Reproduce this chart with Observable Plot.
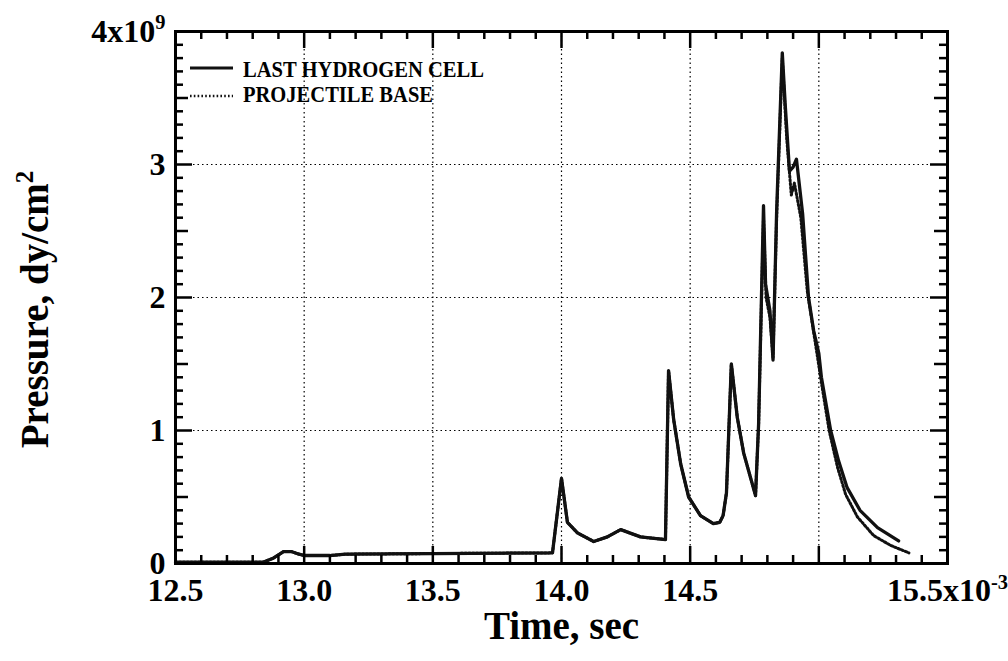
<!DOCTYPE html>
<html><head><meta charset="utf-8">
<script src="https://cdn.jsdelivr.net/npm/d3@7"></script>
<script src="https://cdn.jsdelivr.net/npm/@observablehq/plot@0.6"></script>
<style>
html,body{margin:0;padding:0;background:#fff;}
#wrap{position:relative;width:1008px;height:661px;overflow:hidden;}
#legend{position:absolute;left:0;top:0;pointer-events:none;}
</style></head><body>
<div id="wrap"></div>
<script>
// ---- data (time in 1e-3 s, pressure in 1e9 dy/cm^2) ----
const hydrogenTime = [12.50, 12.84, 12.88, 12.92, 12.95, 12.98, 13.00, 13.10, 13.16, 13.50, 13.965, 14.00, 14.023, 14.062, 14.125, 14.178, 14.23, 14.307, 14.404, 14.416, 14.436, 14.463, 14.494, 14.54, 14.59, 14.615, 14.628, 14.641, 14.66, 14.683, 14.708, 14.754, 14.766, 14.777, 14.785, 14.793, 14.81, 14.822, 14.836, 14.858, 14.87, 14.886, 14.90, 14.913, 14.937, 14.96, 14.98, 15.00, 15.01, 15.046, 15.077, 15.11, 15.16, 15.228, 15.31];
const hydrogenPressure = [0.01, 0.01, 0.04, 0.09, 0.09, 0.07, 0.06, 0.06, 0.07, 0.075, 0.08, 0.64, 0.31, 0.23, 0.165, 0.20, 0.255, 0.20, 0.18, 1.45, 1.08, 0.75, 0.50, 0.36, 0.30, 0.31, 0.36, 0.53, 1.50, 1.10, 0.83, 0.51, 1.05, 2.00, 2.69, 2.10, 1.90, 1.53, 2.65, 3.84, 3.43, 2.95, 2.98, 3.04, 2.63, 2.00, 1.75, 1.58, 1.40, 1.00, 0.77, 0.57, 0.40, 0.27, 0.17];
const baseTime = [12.50, 12.84, 12.88, 12.92, 12.95, 12.98, 13.00, 13.10, 13.16, 13.50, 13.965, 14.00, 14.023, 14.062, 14.125, 14.178, 14.23, 14.307, 14.404, 14.416, 14.436, 14.463, 14.494, 14.54, 14.59, 14.615, 14.628, 14.641, 14.66, 14.683, 14.708, 14.754, 14.766, 14.777, 14.785, 14.795, 14.81, 14.822, 14.836, 14.858, 14.875, 14.893, 14.905, 14.93, 14.955, 14.975, 14.995, 15.01, 15.04, 15.073, 15.104, 15.15, 15.213, 15.28, 15.35];
const basePressure = [0.01, 0.01, 0.04, 0.09, 0.09, 0.07, 0.06, 0.06, 0.07, 0.075, 0.08, 0.64, 0.31, 0.23, 0.165, 0.20, 0.255, 0.20, 0.18, 1.45, 1.08, 0.75, 0.50, 0.36, 0.30, 0.31, 0.36, 0.53, 1.50, 1.10, 0.83, 0.51, 1.05, 1.95, 2.60, 2.00, 1.85, 1.55, 2.60, 3.80, 3.20, 2.77, 2.86, 2.60, 2.05, 1.80, 1.55, 1.36, 1.00, 0.72, 0.52, 0.35, 0.21, 0.135, 0.08];
const seriesNames = ["LAST HYDROGEN CELL", "PROJECTILE BASE"];
const xLabelTicks = [12.5, 13.0, 13.5, 14.0, 14.5, 15.5];
const xGridTicks = [13.0, 13.5, 14.0, 14.5, 15.0];
const yLabelTicks = [0, 1, 2, 3, 4];
const yGridTicks = [1, 2, 3];
const xTitle = "Time, sec";
const yTitle = "Pressure, dy/cm^2";

const hydrogenRows = hydrogenTime.map((t, i) => ({t, p: hydrogenPressure[i]}));
const baseRows = baseTime.map((t, i) => ({t, p: basePressure[i]}));

const xMinor = d3.range(126, 155).filter(v => v % 5 !== 0).map(v => v / 10);
const xMajor = d3.range(25, 32).map(v => v / 2);
const yMinor = d3.range(1, 40).filter(v => v % 5 !== 0).map(v => v / 10);
const yMid = [0.5, 1.5, 2.5, 3.5];
const yMajor = [1, 2, 3];

const W = 1008, H = 661, ML = 175, MR = 61, MT = 31, MB = 98;
const PW = W - ML - MR, PH = H - MT - MB;
const FONT = "'Liberation Serif', 'Times New Roman', serif";
const TW = 2.5;
// inward ticks: full-frame ticks shortened with insets (pixel lengths)
const bottomTicks = (data, len) => Plot.tickX(data, {x: d => d, insetTop: PH - len, strokeWidth: TW, stroke: "#000"});
const topTicks = (data, len) => Plot.tickX(data, {x: d => d, insetBottom: PH - len, strokeWidth: TW, stroke: "#000"});
const leftTicks = (data, len) => Plot.tickY(data, {y: d => d, insetRight: PW - len, strokeWidth: TW, stroke: "#000"});
const rightTicks = (data, len) => Plot.tickY(data, {y: d => d, insetLeft: PW - len, strokeWidth: TW, stroke: "#000"});

const chart = Plot.plot({
  width: W, height: H,
  marginLeft: ML, marginRight: MR, marginTop: MT, marginBottom: MB,
  style: {fontFamily: FONT, fontWeight: "bold", fontSize: "32px", background: "white", color: "black"},
  x: {domain: [12.5, 15.5], label: null},
  y: {domain: [0, 4], label: null},
  marks: [
    Plot.gridX(xGridTicks, {stroke: "#000", strokeOpacity: 1, strokeWidth: 1.2, strokeDasharray: "1.5,3"}),
    Plot.gridY(yGridTicks, {stroke: "#000", strokeOpacity: 1, strokeWidth: 1.2, strokeDasharray: "1.5,3"}),
    Plot.line(baseRows, {x: "t", y: "p", stroke: "#111", strokeWidth: 3, strokeDasharray: "1.6,2.2"}),
    Plot.line(hydrogenRows, {x: "t", y: "p", stroke: "#111", strokeWidth: 3.3}),
    bottomTicks(xMinor, 8), bottomTicks(xMajor, 17),
    topTicks(xMinor, 8), topTicks(xMajor, 17),
    leftTicks(yMinor, 8), leftTicks(yMid, 13), leftTicks(yMajor, 17),
    rightTicks(yMinor, 8), rightTicks(yMid, 13), rightTicks(yMajor, 17),
    Plot.axisX(xLabelTicks, {anchor: "bottom", tickSize: 0, tickPadding: 15, label: null, fontSize: 32,
      fontFamily: FONT, fontWeight: "bold",
      tickFormat: d => d === 15.5 ? "15.5x10^-3" : d.toFixed(1)}),
    Plot.axisY(yLabelTicks, {anchor: "left", tickSize: 0, tickPadding: 10, label: null, fontSize: 32,
      fontFamily: FONT, fontWeight: "bold",
      tickFormat: d => d === 4 ? "4x10^9" : String(d)}),
    Plot.frame({stroke: "#000", strokeWidth: 3}),
    Plot.text([xTitle], {text: d => d, frameAnchor: "bottom", dy: 63, lineAnchor: "middle", textAnchor: "middle", fontSize: 39}),
    Plot.text([yTitle], {text: d => d, frameAnchor: "left", dx: -140, dy: 12, rotate: -90, lineAnchor: "middle", textAnchor: "middle", fontSize: 39})
  ]
});

// superscripts (text after "^")
const NS = "http://www.w3.org/2000/svg";
chart.querySelectorAll("text").forEach(t => {
  const s = t.textContent; const i = s.indexOf("^");
  if (i < 0) return;
  while (t.firstChild) t.removeChild(t.firstChild);
  const a = document.createElementNS(NS, "tspan"); a.textContent = s.slice(0, i);
  const b = document.createElementNS(NS, "tspan"); b.textContent = s.slice(i + 1);
  b.setAttribute("font-size", "0.64em"); b.setAttribute("dy", "-0.62em");
  t.append(a, b);
});

const wrap = document.getElementById("wrap");
wrap.appendChild(chart);

// legend inside plot (top-left)
const leg = d3.create("svg").attr("id", "legend").attr("width", W).attr("height", H)
  .style("font-family", FONT).style("font-weight", "bold");
const rowsL = [
  {name: seriesNames[0], y: 68, ty: 77, dash: null, len: 241},
  {name: seriesNames[1], y: 96, ty: 102, dash: "1.6,2.2", len: 190}
];
rowsL.forEach(r => {
  leg.append("line").attr("x1", 190).attr("x2", 233).attr("y1", r.y).attr("y2", r.y)
    .attr("stroke", "#111").attr("stroke-width", r.dash ? 2.6 : 3).attr("stroke-dasharray", r.dash);
  leg.append("text").attr("x", 243).attr("y", r.ty).attr("font-size", 23)
    .attr("textLength", r.len).attr("lengthAdjust", "spacingAndGlyphs").text(r.name);
});
wrap.appendChild(leg.node());
</script>
</body></html>
